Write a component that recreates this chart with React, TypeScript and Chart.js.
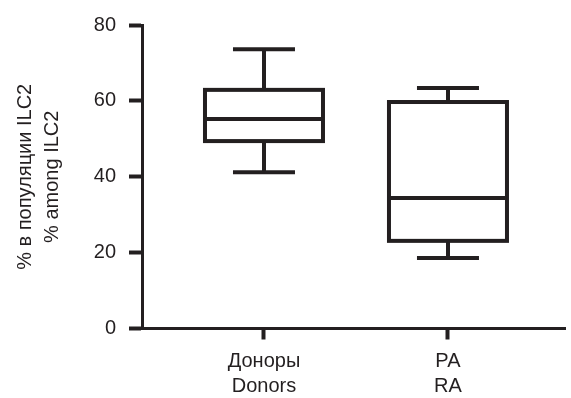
import React, { useEffect, useRef } from "react";
import { Chart, registerables } from "chart.js";

Chart.register(...registerables);

const categories: string[][] = [["Доноры", "Donors"], ["РА", "RA"]];
const xPositions = [1, 2];
const mins = [41.2, 18.6];
const q1s = [49.4, 23.1];
const medians = [55.2, 34.4];
const q3s = [62.9, 59.7];
const maxs = [73.6, 63.4];
const yTickValues = [0, 20, 40, 60, 80];
const yTitle = ["% в популяции ILC2", "% among ILC2"];

const INK = "#231f20";
const FONT = "'Liberation Sans Narrow', 'Arial Narrow', 'Liberation Sans', Arial, sans-serif";

const boxPlugin = {
  id: "boxWhisker",
  afterDatasetsDraw(chart: any) {
    const { ctx, scales } = chart;
    const y = scales.y;
    const meta = chart.getDatasetMeta(0);
    const capHalf = 31;
    ctx.save();
    ctx.strokeStyle = INK;
    ctx.lineWidth = 4;
    ctx.lineCap = "butt";
    const line = (x1: number, y1: number, x2: number, y2: number) => {
      ctx.beginPath();
      ctx.moveTo(x1, y1);
      ctx.lineTo(x2, y2);
      ctx.stroke();
    };
    meta.data.forEach((bar: any, i: number) => {
      const p = bar.getProps(["x", "y", "base", "width"], true);
      const left = p.x - p.width / 2;
      const right = p.x + p.width / 2;
      const yTop = Math.min(p.y, p.base);
      const yBot = Math.max(p.y, p.base);
      const yMed = y.getPixelForValue(medians[i]);
      const yMax = y.getPixelForValue(maxs[i]);
      const yMin = y.getPixelForValue(mins[i]);
      line(p.x, yTop, p.x, yMax);
      line(p.x, yBot, p.x, yMin);
      line(p.x - capHalf, yMax, p.x + capHalf, yMax);
      line(p.x - capHalf, yMin, p.x + capHalf, yMin);
      ctx.strokeRect(left, yTop, p.width, yBot - yTop);
      line(left, yMed, right, yMed);
    });
    ctx.restore();
  },
};

export default function App() {
  const ref = useRef<HTMLCanvasElement | null>(null);
  useEffect(() => {
    if (!ref.current) return;
    const chart = new Chart(ref.current, {
      type: "bar",
      data: {
        datasets: [
          {
            data: xPositions.map((x, i) => ({ x, y: [q1s[i], q3s[i]] })) as any,
            backgroundColor: "rgba(0,0,0,0)",
            borderWidth: 0,
            barThickness: 118,
          },
        ],
      },
      options: {
        animation: false,
        responsive: false,
        maintainAspectRatio: false,
        layout: { padding: { top: 24, right: 6, left: 0, bottom: 0 } },
        plugins: { legend: { display: false }, tooltip: { enabled: false }, title: { display: false } },
        scales: {
          x: {
            type: "linear",
            offset: false,
            min: 0.337,
            max: 2.636,
            afterBuildTicks: (s: any) => {
              s.ticks = xPositions.map((v) => ({ value: v }));
            },
            afterFit: (s: any) => {
              s.height = 69.5;
            },
            ticks: {
              callback: (_v: any, idx: number) => categories[idx],
              color: INK,
              font: { family: FONT, size: 20, lineHeight: 1.25 },
              padding: 9,
              maxRotation: 0,
              autoSkip: false,
            },
            grid: {
              display: true,
              offset: false,
              drawOnChartArea: false,
              drawTicks: true,
              tickLength: 11,
              tickWidth: 4,
              tickColor: INK,
            },
            border: { display: true, color: INK, width: 3 },
          },
          y: {
            type: "linear",
            min: 0,
            max: 80,
            afterBuildTicks: (s: any) => {
              s.ticks = yTickValues.map((v) => ({ value: v }));
            },
            afterFit: (s: any) => {
              s.width = 142;
            },
            ticks: {
              color: INK,
              font: { family: FONT, size: 20 },
              padding: 13,
            },
            grid: {
              display: true,
              drawOnChartArea: false,
              drawTicks: true,
              tickLength: 13,
              tickWidth: 4,
              tickColor: INK,
            },
            border: { display: true, color: INK, width: 3 },
            title: {
              display: true,
              text: yTitle,
              color: INK,
              font: { family: FONT, size: 20, lineHeight: 1.35 },
              padding: { top: 12, bottom: 0 },
            },
          },
        },
      },
      plugins: [boxPlugin],
    });
    return () => chart.destroy();
  }, []);
  return (
    <div style={{ position: "fixed", left: 0, top: 0, width: 571, height: 398, background: "#fff" }}>
      <canvas ref={ref} width={571} height={398} style={{ width: 571, height: 398, display: "block" }} />
    </div>
  );
}
